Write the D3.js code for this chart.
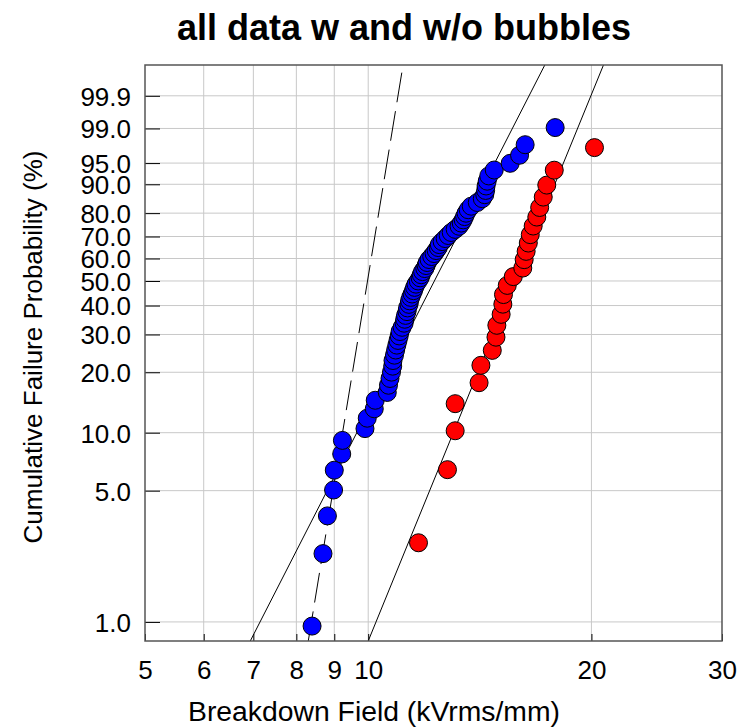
<!DOCTYPE html>
<html>
<head>
<meta charset="utf-8">
<script src="https://cdn.jsdelivr.net/npm/d3@7"></script>
<style>
  body { margin: 0; background: #fff; }
  text { font-family: "Liberation Sans", Arial, sans-serif; }
</style>
</head>
<body>
<svg id="chart" width="742" height="727"></svg>
<script>
// breakdown field (kVrms/mm) and plotting position (%)
const allField = [
  8.40, 8.69, 8.81, 8.98, 9.00, 9.21, 9.23, 9.90, 9.97, 10.19,
  10.22, 10.61, 10.65, 10.70, 10.75, 10.79, 10.80, 10.85, 10.89, 10.93,
  10.97, 11.01, 11.04, 11.11, 11.18, 11.20, 11.23, 11.28, 11.30, 11.35,
  11.37, 11.41, 11.46, 11.51, 11.55, 11.60, 11.68, 11.75, 11.79, 11.84,
  11.92, 11.97, 12.01, 12.08, 12.18, 12.27, 12.35, 12.43, 12.47, 12.58,
  12.70, 12.82, 12.94, 13.10, 13.26, 13.35, 13.43, 13.49, 13.55, 13.64,
  13.77, 14.03, 14.25, 14.36, 14.40, 14.42, 14.47, 14.54, 14.79, 15.54,
  16.00, 16.28, 17.87
];
const allProb = [
  0.95, 2.32, 3.68, 5.04, 6.40, 7.77, 9.13, 10.49, 11.85, 13.22,
  14.58, 15.94, 17.30, 18.66, 20.03, 21.39, 22.75, 24.11, 25.48, 26.84,
  28.20, 29.56, 30.93, 32.29, 33.65, 35.01, 36.38, 37.74, 39.10, 40.46,
  41.83, 43.19, 44.55, 45.91, 47.28, 48.64, 50.00, 51.36, 52.72, 54.09,
  55.45, 56.81, 58.17, 59.54, 60.90, 62.26, 63.62, 64.99, 66.35, 67.71,
  69.07, 70.44, 71.80, 73.16, 74.52, 75.89, 77.25, 78.61, 79.97, 81.34,
  82.70, 84.06, 85.42, 86.78, 88.15, 89.51, 90.87, 92.23, 93.60, 94.96,
  96.32, 97.68, 99.05
];
const noBubField = [
  11.69, 12.79, 13.10, 13.10, 14.11, 14.19, 14.70, 14.87, 14.91, 15.11,
  15.19, 15.22, 15.40, 15.69, 16.16, 16.23, 16.33, 16.44, 16.54, 16.69,
  16.88, 17.03, 17.22, 17.41, 17.82, 20.19
];
const noBubProb = [
  2.65, 6.44, 10.23, 14.02, 17.80, 21.59, 25.38, 29.17, 32.95, 36.74,
  40.53, 44.32, 48.11, 51.89, 55.68, 59.47, 63.26, 67.05, 70.83, 74.62,
  78.41, 82.20, 85.98, 89.77, 93.56, 97.35
];

// fitted weibull lines: [shape, scale]
const fitAll = [7.82, 12.87];
const fitNoBub = [9.79, 16.39];
const fitDashed = [24.3, 10.13];

const xTicks = [5, 6, 7, 8, 9, 10, 20, 30];
const yTicks = [1, 5, 10, 20, 30, 40, 50, 60, 70, 80, 90, 95, 99, 99.9];

const svg = d3.select("#chart");
const plotL = 145, plotR = 722, plotT = 65, plotB = 641;

// weibull transform of probability (%)
const wb = p => Math.log(-Math.log(1 - p / 100));

const x = d3.scaleLog().domain([5, 30]).range([plotL, plotR]);
const y = d3.scaleLinear().domain([wb(0.79), wb(99.996)]).range([plotB, plotT]);

// grid
svg.append("g").selectAll("line").data(xTicks.slice(1, -1)).join("line")
  .attr("x1", d => x(d)).attr("x2", d => x(d))
  .attr("y1", plotT).attr("y2", plotB)
  .attr("stroke", "#c8c8c8").attr("stroke-width", 1);
svg.append("g").selectAll("line").data(yTicks).join("line")
  .attr("x1", plotL).attr("x2", plotR)
  .attr("y1", d => y(wb(d))).attr("y2", d => y(wb(d)))
  .attr("stroke", "#c8c8c8").attr("stroke-width", 1);

// axes
const xAxis = d3.axisBottom(x).tickValues(xTicks).tickSize(-7)
  .tickFormat(d3.format("d"));
svg.append("g").attr("transform", `translate(0,${plotB})`).call(xAxis)
  .call(g => g.select(".domain").remove())
  .call(g => g.selectAll("line").attr("stroke", "#000"))
  .call(g => g.selectAll("text").attr("dy", 0).attr("y", 38)
    .attr("font-size", 26).attr("fill", "#000")
    .style("font-family", "Liberation Sans, Arial, sans-serif"));

const yAxis = d3.axisLeft(y).tickValues(yTicks.map(wb)).tickSize(-15)
  .tickFormat((d, i) => d3.format(".1f")(yTicks[i]));
svg.append("g").attr("transform", `translate(${plotL},0)`).call(yAxis)
  .call(g => g.select(".domain").remove())
  .call(g => g.selectAll("line").attr("stroke", "#000"))
  .call(g => g.selectAll("text").attr("x", -14).attr("dy", "0.36em")
    .attr("font-size", 26).attr("fill", "#000")
    .style("font-family", "Liberation Sans, Arial, sans-serif"));

// fitted lines
svg.append("clipPath").attr("id", "plot")
  .append("rect").attr("x", plotL).attr("y", plotT)
  .attr("width", plotR - plotL).attr("height", plotB - plotT);

const fitLine = ([shape, scale]) => {
  const ends = y.domain().map(u => [Math.exp(Math.log(scale) + u / shape), u]);
  return d3.line().x(d => x(d[0])).y(d => y(d[1]))(ends);
};
const lines = svg.append("g").attr("clip-path", "url(#plot)");
lines.append("path").attr("d", fitLine(fitAll))
  .attr("stroke", "#000").attr("fill", "none").attr("stroke-width", 1);
lines.append("path").attr("d", fitLine(fitNoBub))
  .attr("stroke", "#000").attr("fill", "none").attr("stroke-width", 1);
lines.append("path").attr("d", fitLine(fitDashed))
  .attr("stroke", "#000").attr("fill", "none").attr("stroke-width", 1)
  .attr("stroke-dasharray", "30,9");

// points
const drawPoints = (xs, ps, color) => {
  svg.append("g").selectAll("circle").data(xs).join("circle")
    .attr("cx", d => x(d))
    .attr("cy", (d, i) => y(wb(ps[i])))
    .attr("r", 9)
    .attr("fill", color)
    .attr("stroke", "#000").attr("stroke-width", 1);
};
drawPoints(allField, allProb, "#0000ff");
drawPoints(noBubField, noBubProb, "#ff0000");

// frame
svg.append("rect").attr("x", plotL).attr("y", plotT)
  .attr("width", plotR - plotL).attr("height", plotB - plotT)
  .attr("fill", "none").attr("stroke", "#555").attr("stroke-width", 1.5);

// titles
svg.append("text").attr("x", 404).attr("y", 40).attr("text-anchor", "middle")
  .attr("font-size", 36).attr("font-weight", "bold")
  .text("all data w and w/o bubbles");
svg.append("text").attr("x", 188).attr("y", 721)
  .attr("font-size", 27).attr("textLength", 372)
  .attr("lengthAdjust", "spacingAndGlyphs")
  .text("Breakdown Field (kVrms/mm)");
svg.append("text")
  .attr("transform", "translate(42,347) rotate(-90)")
  .attr("text-anchor", "middle").attr("font-size", 26)
  .text("Cumulative Failure Probability (%)");
</script>
</body>
</html>
